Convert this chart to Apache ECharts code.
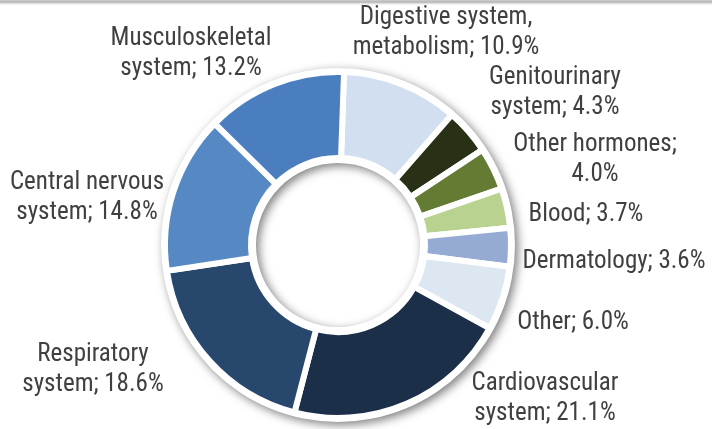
<!DOCTYPE html>
<html>
<head>
<meta charset="utf-8">
<title>Therapeutic areas</title>
<script src="https://cdn.jsdelivr.net/npm/echarts@6/dist/echarts.min.js"></script>
<style>
  html, body { margin: 0; padding: 0; background: #ffffff; }
  #chart { width: 712px; height: 429px; }
</style>
</head>
<body>
<div id="chart"></div>
<script>
// Share of products by therapeutic area, clockwise from 12 o'clock
const categories = [
  'Digestive system,\nmetabolism',
  'Genitourinary\nsystem',
  'Other hormones',
  'Blood',
  'Dermatology',
  'Other',
  'Cardiovascular\nsystem',
  'Respiratory\nsystem',
  'Central nervous\nsystem',
  'Musculoskeletal\nsystem'
];
const shares = [10.9, 4.3, 4.0, 3.7, 3.6, 6.0, 21.1, 18.6, 14.8, 13.2];
// labels whose value goes on its own line after the semicolon
const breakAfterSemicolon = ['Other hormones'];

const sliceColors = [
  '#d2dff0', '#283116', '#647b33', '#bad28f', '#96abd3',
  '#dde7f2', '#1c2f48', '#28476d', '#5689c3', '#4a7ebf'
];

// label anchor points (centre of each text block)
const labelAnchors = [
  [446, 33], [555, 93], [595, 160], [586, 215], [614, 262],
  [573, 323], [545, 399], [93, 370], [87, 198], [191, 54]
];

const FONT = "'Liberation Sans Narrow', 'Arial Narrow', 'Nimbus Sans Narrow', 'Roboto Condensed', sans-serif";

const chart = echarts.init(document.getElementById('chart'), null, { renderer: 'canvas' });

const center = [338, 245];

chart.setOption({
  animation: false,
  backgroundColor: '#ffffff',
  graphic: [{
    type: 'rect',
    left: 0, top: 0,
    shape: { width: 712, height: 6 },
    style: {
      fill: new echarts.graphic.LinearGradient(0, 0, 0, 1, [
        { offset: 0, color: '#cfcfcf' },
        { offset: 0.35, color: '#b4b4b4' },
        { offset: 1, color: 'rgba(255,255,255,0)' }
      ])
    },
    silent: true
  }],
  series: [
    {
      // white ring behind the slices, with its drop shadow
      type: 'pie',
      silent: true,
      center: center,
      radius: [82, 177],
      startAngle: 90,
      label: { show: false },
      labelLine: { show: false },
      itemStyle: {
        color: '#ffffff',
        shadowBlur: 10,
        shadowOffsetX: 3,
        shadowOffsetY: 3,
        shadowColor: 'rgba(0,0,0,0.5)'
      },
      data: [{ value: 1 }]
    },
    {
      type: 'pie',
      center: center,
      radius: [87, 173],
      startAngle: 88,
      clockwise: true,
      avoidLabelOverlap: false,
      itemStyle: {
        borderColor: '#ffffff',
        borderWidth: 6
      },
      label: {
        show: true,
        position: 'outside',
        fontFamily: FONT,
        fontSize: 25,
        lineHeight: 30,
        color: '#404040',
        align: 'center',
        formatter: function (p) {
          const sep = breakAfterSemicolon.indexOf(p.name) >= 0 ? ';\n' : '; ';
          return p.name + sep + p.value.toFixed(1) + '%';
        }
      },
      labelLine: { show: false },
      labelLayout: function (params) {
        const a = labelAnchors[params.dataIndex];
        return { x: a[0], y: a[1], align: 'center', verticalAlign: 'middle' };
      },
      data: categories.map(function (name, i) {
        return { name: name, value: shares[i], itemStyle: { color: sliceColors[i] } };
      })
    }
  ]
});
</script>
</body>
</html>
